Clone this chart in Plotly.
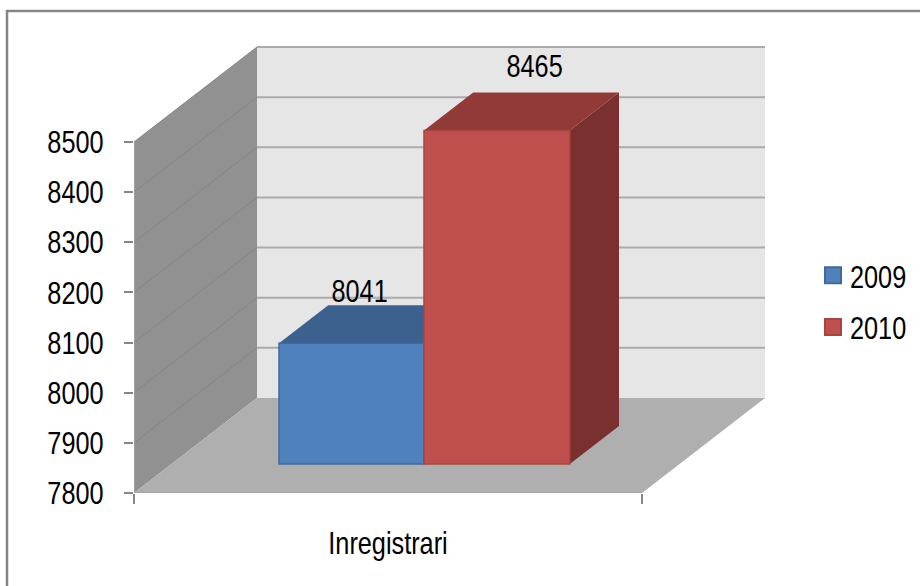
import plotly.graph_objects as go

# --- data ---
series_names = ["2009", "2010"]
series_values = [8041, 8465]
category = "Inregistrari"
value_ticks = [7800, 7900, 8000, 8100, 8200, 8300, 8400, 8500]

# --- style ---
FONT = "Liberation Sans"
FS = 32
NARROW = 0.79
front_fill = ["#4f81bd", "#c0504d"]
front_line = ["#41699b", "#a8453f"]
top_fill = ["#3c618e", "#923a38"]
side_fill = ["#33547a", "#7a302e"]

# --- oblique projection (depth 0 = front plane, 1 = back wall) ---
Y0, Y1 = value_ticks[0], value_ticks[-1]
PX_PER_UNIT = 351 / 700
CAT_PX = 508
DEPTH_DX = 123 / CAT_PX
DEPTH_DY = 95 / PX_PER_UNIT


def proj(x, depth, value):
    return x + depth * DEPTH_DX, value + depth * DEPTH_DY


def poly(points, fill, line=None, width=0):
    pts = [proj(*p) for p in points]
    path = "M " + " L ".join(f"{a:.5f},{b:.3f}" for a, b in pts) + " Z"
    return dict(type="path", path=path, xref="x", yref="y", layer="below",
                fillcolor=fill, line=dict(color=line or fill, width=width))


def seg(p, q, color, width):
    a, b = proj(*p), proj(*q)
    return dict(type="line", x0=a[0], y0=a[1], x1=b[0], y1=b[1], xref="x", yref="y",
                layer="below", line=dict(color=color, width=width))


shapes = []
# frame (its right and bottom sides lie past the picture)
shapes.append(dict(type="rect", xref="paper", yref="paper", x0=(7 - 134) / 646, x1=(940 - 134) / 646,
                   y0=(493 - 610) / 461, y1=(493 - 11) / 461, layer="below",
                   fillcolor="white", line=dict(color="#868686", width=2.5)))
# walls and floor
shapes.append(poly([(0, 1, Y0), (1, 1, Y0), (1, 1, Y1), (0, 1, Y1)], "#e6e6e6"))
shapes.append(poly([(0, 0, Y0), (0, 1, Y0), (0, 1, Y1), (0, 0, Y1)], "#919191"))
shapes.append(poly([(0, 0, Y0), (1, 0, Y0), (1, 1, Y0), (0, 1, Y0)], "#afafaf"))
for v in value_ticks[1:]:
    shapes.append(seg((0, 1, v), (1, 1, v), "#ababab", 2))
    shapes.append(seg((0, 0, v), (0, 1, v), "#858585", 1))
shapes.append(seg((0, 0, Y0), (1, 0, Y0), "#a6a6a6", 2))
shapes.append(seg((0, 0, Y0), (0, 0, Y1), "#a9a9a9", 1.5))

# bars: position along the category and in depth
bar_edges = [0.2116, 0.497, 0.784]
D0, D1 = 0.305, 0.705
for i, val in enumerate(series_values):
    a, b = bar_edges[i], bar_edges[i + 1]
    shapes.append(poly([(b, D0, Y0), (b, D1, Y0), (b, D1, val), (b, D0, val)], side_fill[i]))
    shapes.append(poly([(a, D0, val), (a, D1, val), (b, D1, val), (b, D0, val)], top_fill[i]))

fig = go.Figure()
for i, (name, val) in enumerate(zip(series_names, series_values)):
    a, b = bar_edges[i], bar_edges[i + 1]
    xf, base = proj(a, D0, Y0)
    xr, _ = proj(b, D0, Y0)
    fig.add_trace(go.Bar(x=[(xf + xr) / 2], y=[val - Y0], base=base, width=xr - xf, showlegend=False,
                         marker=dict(color=front_fill[i], line=dict(color=front_line[i], width=1.5))))
    fig.add_trace(go.Scatter(x=[None], y=[None], mode="markers", name=name, legendgroup=name,
                             marker=dict(symbol="square", size=16, color=front_fill[i],
                                         line=dict(color=front_line[i], width=2))))

label_offsets = [(8, 52), (38, 65)]
annotations = []
for i, val in enumerate(series_values):
    a, b = bar_edges[i], bar_edges[i + 1]
    x, y = proj((a + b) / 2, D0, val)
    dx, dy = label_offsets[i]
    annotations.append(dict(x=x, y=y, text=str(val), showarrow=False, xshift=dx, yshift=dy,
                            font=dict(family=FONT, size=FS, color="black")))

fig.update_layout(
    width=920, height=586, margin=dict(l=134, r=140, t=32, b=93, autoexpand=False),
    paper_bgcolor="white", plot_bgcolor="rgba(0,0,0,0)", barmode="overlay",
    shapes=shapes, annotations=annotations, font=dict(family=FONT, size=FS, color="black"),
    legend=dict(x=(813 - 134) / 646, y=(493 - 248) / 461, xanchor="left", yanchor="top",
                traceorder="grouped", tracegroupgap=7, itemsizing="trace",
                bgcolor="rgba(0,0,0,0)", font=dict(family=FONT, size=FS)),
    xaxis=dict(range=[0, 646 / CAT_PX], tickmode="array", tickvals=[0.5], ticktext=[category],
               ticks="", showgrid=False, zeroline=False, showline=False, ticklabelstandoff=28,
               minor=dict(tickmode="array", tickvals=[0, 1], ticks="outside", ticklen=10,
                          tickcolor="#868686", tickwidth=1.5, showgrid=False),
               fixedrange=True),
    yaxis=dict(range=[Y0, Y0 + 461 / PX_PER_UNIT], tickmode="array", tickvals=value_ticks,
               ticks="outside", ticklen=9, tickcolor="#868686", tickwidth=1.5, showgrid=False,
               zeroline=False, showline=False, ticklabelstandoff=14, fixedrange=True),
)
# page without body margin; the reference's narrow face is approximated by condensing the real text
post = """
document.body.style.margin = '0';
document.querySelectorAll('svg.main-svg text').forEach(function (t) {
  var n = t.getComputedTextLength();
  if (n > 0) { t.setAttribute('textLength', n * %s); t.setAttribute('lengthAdjust', 'spacingAndGlyphs'); }
});
document.querySelectorAll('text.legendtext').forEach(function (t) {
  t.setAttribute('x', parseFloat(t.getAttribute('x')) - 3);
});
""" % NARROW
fig.write_html("out.html", post_script=post, config=dict(displayModeBar=False))
